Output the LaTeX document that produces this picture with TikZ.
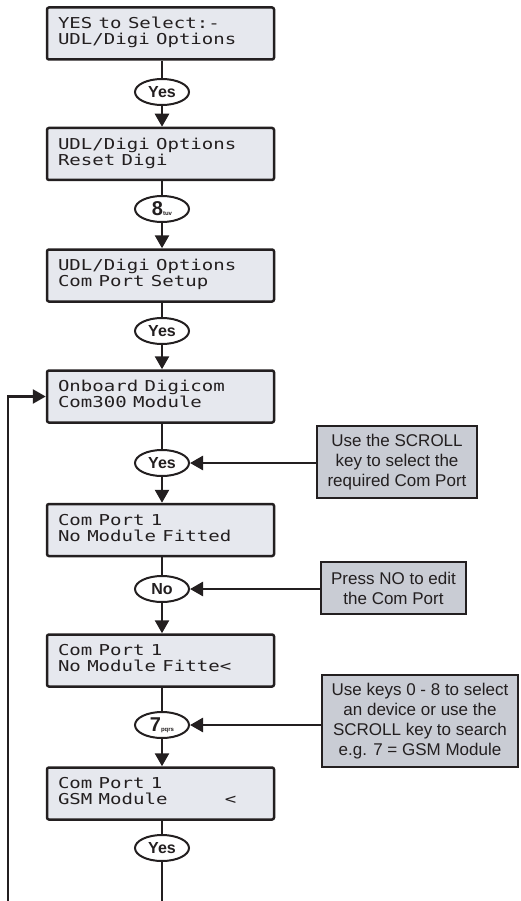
\documentclass[tikz,border=0pt]{standalone}
\usepackage{fontspec}
\usepackage{graphicx}
\usetikzlibrary{arrows.meta,shapes.geometric}
\setmainfont{Liberation Sans}
\newfontfamily\lcdfont{DejaVu Sans Mono}
\definecolor{ink}{HTML}{231F20}
\definecolor{lcdfill}{HTML}{E6E8EE}
\definecolor{notefill}{HTML}{C9CCD4}
\newcommand{\lcdtext}[2]{\scalebox{1.27}[1]{\begin{tabular}{@{}l@{}}#1\\#2\end{tabular}}}
\newcommand{\keylab}[2]{{\fontsize{20}{20}\selectfont #1}{\fontsize{6}{6}\selectfont #2}}
\tikzset{
  lcd/.style={draw=ink, line width=2.5pt, fill=lcdfill, rounded corners=2pt,
    minimum width=227pt, minimum height=52pt, text width=205pt, inner xsep=11pt,
    inner ysep=0pt, align=left, text=ink, font=\lcdfont\fontsize{15}{16}\selectfont},
  keybox/.style={draw=ink, ellipse, line width=2pt, fill=white, minimum width=54pt,
    minimum height=26pt, inner sep=0pt, text=ink, font=\bfseries\fontsize{16}{16}\selectfont},
  note/.style={draw=ink, line width=2.5pt, fill=notefill, align=center, inner sep=0pt,
    text=ink, font=\fontsize{17}{20}\selectfont},
  conn/.style={draw=ink, line width=2.6pt},
  tip/.style={-{Triangle[width=14pt,length=13pt]}}
}
\begin{document}
\begin{tikzpicture}[x=1pt,y=-1pt]
\useasboundingbox (0,0) rectangle (520,901);
% LCD boxes
\node[lcd] (B1) at (160.5,33.5) {\lcdtext{YES to Select:-}{UDL/Digi Options}};
\node[lcd] (B2) at (160.5,154) {\lcdtext{UDL/Digi Options}{Reset Digi}};
\node[lcd] (B3) at (160.5,275.5) {\lcdtext{UDL/Digi Options}{Com Port Setup}};
\node[lcd] (B4) at (160.5,396.5) {\lcdtext{Onboard Digicom}{Com300 Module}};
\node[lcd] (B5) at (160.5,530) {\lcdtext{Com Port 1}{No Module Fitted}};
\node[lcd] (B6) at (160.5,660.5) {\lcdtext{Com Port 1}{No Module Fitte<}};
\node[lcd] (B7) at (160.5,793.5) {\lcdtext{Com Port 1}{GSM Module\phantom{xxxxx}<}};
% keys
\node[keybox] (O1) at (162,92) {Yes};
\node[keybox] (O2) at (162,209) {\keylab{8}{tuv}};
\node[keybox] (O3) at (162,331) {Yes};
\node[keybox] (O4) at (162,463) {Yes};
\node[keybox] (O5) at (162,589) {No};
\node[keybox] (O6) at (162,725) {\keylab{7}{pqrs}};
\node[keybox] (O7) at (162,848) {Yes};
% notes
\node[note, minimum width=160pt, minimum height=72pt] (N1) at (397,462)
  {Use the SCROLL\\key to select the\\required Com Port};
\node[note, minimum width=145pt, minimum height=52pt] (N2) at (393.5,588)
  {Press NO to edit\\the Com Port};
\node[note, minimum width=196pt, minimum height=92pt] (N3) at (420,721)
  {Use keys 0 - 8 to select\\an device or use the\\SCROLL key to search\\e.g. 7 = GSM Module};
% end coordinates
\coordinate (L0) at (8,901);
\coordinate (M0) at (162,901);
% vertical flow
\draw[conn] (B1.south -| O1.north) -- (O1.north);
\draw[conn,tip] (O1.south) -- (O1.south |- B2.north);
\draw[conn] (B2.south -| O2.north) -- (O2.north);
\draw[conn,tip] (O2.south) -- (O2.south |- B3.north);
\draw[conn] (B3.south -| O3.north) -- (O3.north);
\draw[conn,tip] (O3.south) -- (O3.south |- B4.north);
\draw[conn] (B4.south -| O4.north) -- (O4.north);
\draw[conn,tip] (O4.south) -- (O4.south |- B5.north);
\draw[conn] (B5.south -| O5.north) -- (O5.north);
\draw[conn,tip] (O5.south) -- (O5.south |- B6.north);
\draw[conn] (B6.south -| O6.north) -- (O6.north);
\draw[conn,tip] (O6.south) -- (O6.south |- B7.north);
\draw[conn] (B7.south -| O7.north) -- (O7.north);
\draw[conn] (O7.south) -- (M0);
% notes to keys
\draw[conn,tip] (N1.west |- O4.east) -- (O4.east);
\draw[conn,tip] (N2.west |- O5.east) -- (O5.east);
\draw[conn,tip] (N3.west |- O6.east) -- (O6.east);
% loop back
\draw[conn,tip] (L0) |- (B4.west);
\end{tikzpicture}
\end{document}
